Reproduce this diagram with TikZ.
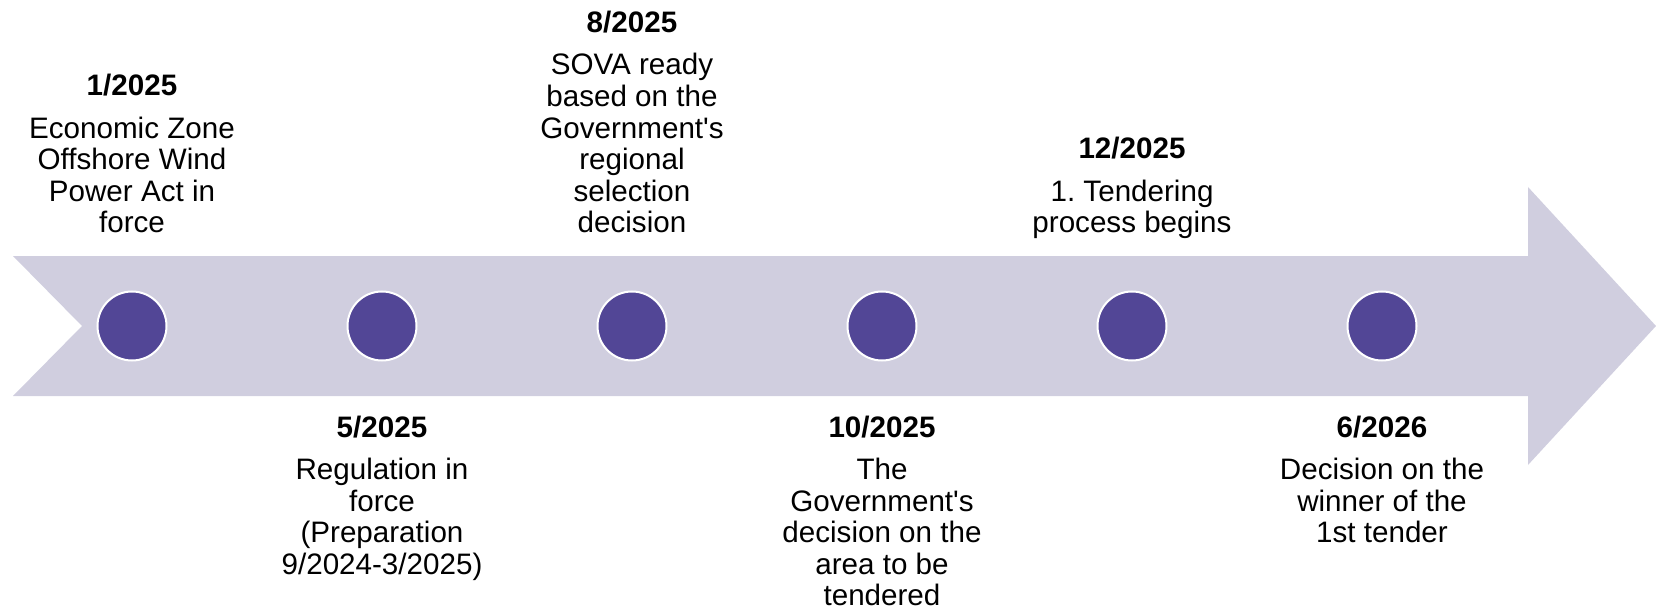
\documentclass[tikz,border=0pt]{standalone}
\usepackage{fontspec}
\setmainfont{Liberation Sans}

\definecolor{bandgray}{RGB}{208,206,223}
\definecolor{dotpurple}{RGB}{82,70,150}

\begin{document}
\begin{tikzpicture}[x=0.5pt,y=-0.5pt,
    dot/.style={circle, fill=dotpurple, draw=white, line width=1pt, minimum size=34.5pt, inner sep=0pt},
    lab/.style={anchor=base, inner sep=0pt, font=\fontsize{14.8}{15.75}\selectfont}]
\useasboundingbox (0,0) rectangle (1656,610);

% define the arrow band
\fill[bandgray] (13,256) -- (1528,256) -- (1528,187) -- (1656,326)
  -- (1528,465) -- (1528,396) -- (13,396) -- (82,326) -- cycle;

% draw the milestone dots
\foreach \i in {1,...,6}
  \node[dot] (dot\i) at ({132+250*(\i-1)},326) {};

% labels above the band
\node[lab] (lab1) at (132,232.5) {\begin{tabular}[b]{@{}c@{}}\textbf{1/2025}\\[5.5pt]
  Economic Zone\\ Offshore Wind\\ Power Act in\\ force\end{tabular}};
\node[lab] (lab3) at (632,232.5) {\begin{tabular}[b]{@{}c@{}}\textbf{8/2025}\\[5.5pt]
  SOVA ready\\ based on the\\ Government\textquotesingle s\\ regional\\ selection\\ decision\end{tabular}};
\node[lab] (lab5) at (1132,232.5) {\begin{tabular}[b]{@{}c@{}}\textbf{12/2025}\\[5.5pt]
  1.\ Tendering\\ process begins\end{tabular}};

% labels below the band
\node[lab] (lab2) at (382,437) {\begin{tabular}[t]{@{}c@{}}\textbf{5/2025}\\[5.5pt]
  Regulation in\\ force\\ (Preparation\\ 9/2024-3/2025)\end{tabular}};
\node[lab] (lab4) at (882,437) {\begin{tabular}[t]{@{}c@{}}\textbf{10/2025}\\[5.5pt]
  The\\ Government\textquotesingle s\\ decision on the\\ area to be\\ tendered\end{tabular}};
\node[lab] (lab6) at (1382,437) {\begin{tabular}[t]{@{}c@{}}\textbf{6/2026}\\[5.5pt]
  Decision on the\\ winner of the\\ 1st tender\end{tabular}};

\end{tikzpicture}
\end{document}
